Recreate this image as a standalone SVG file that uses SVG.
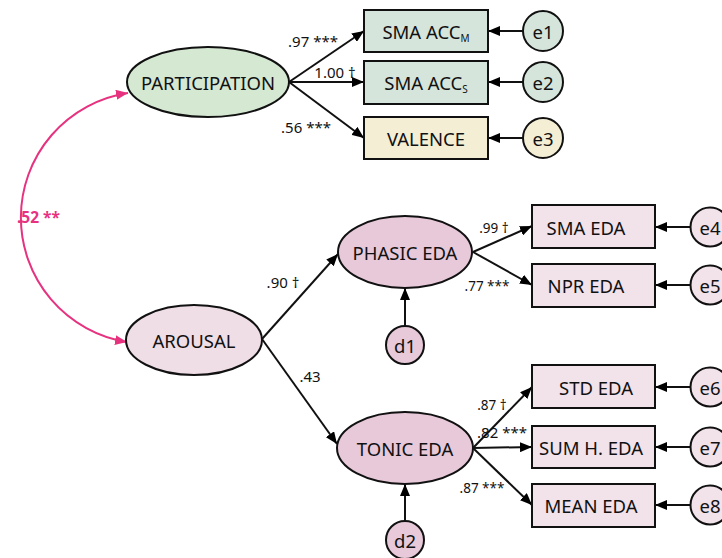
<svg xmlns="http://www.w3.org/2000/svg" width="722" height="558" viewBox="0 0 722 558">
<defs>
<marker id="ah" viewBox="0 0 12 10" refX="12" refY="5" markerWidth="12" markerHeight="10" markerUnits="userSpaceOnUse" orient="auto"><path d="M0,0 L12,5 L0,10 z" fill="#000"/></marker>
<marker id="ahp" viewBox="0 0 12 10" refX="12" refY="5" markerWidth="12" markerHeight="10" markerUnits="userSpaceOnUse" orient="auto-start-reverse"><path d="M0,0 L12,5 L0,10 z" fill="#e6327f"/></marker>
</defs>
<style>
text{font-family:"Noto Sans","Open Sans",sans-serif;fill:#111;}
.n{stroke:#111;stroke-width:2;}
.lab{font-size:18.5px;text-anchor:middle;dominant-baseline:central;}
.el{font-size:15px;}
.sm{font-size:13.5px;}
.c{stroke:#111;stroke-width:2;fill:none;marker-end:url(#ah);}
.g1{fill:#d5e8d2;} .g2{fill:#d5e5db;} .y{fill:#f4eed5;}
.p1{fill:#f0dee7;} .p2{fill:#e7c9d9;} .p3{fill:#f2e2ea;}
</style>
<rect width="722" height="558" fill="#fff"/>
<g id="connectors">
<path d="M128,93 A126,126 0 0 0 127,342" fill="none" stroke="#e6327f" stroke-width="2" marker-start="url(#ahp)" marker-end="url(#ahp)"/>
<line class="c" x1="289" y1="82" x2="364" y2="31"/>
<line class="c" x1="289" y1="82" x2="364" y2="82"/>
<line class="c" x1="289" y1="82" x2="364" y2="138"/>
<line class="c" x1="523" y1="31" x2="488" y2="31"/>
<line class="c" x1="523" y1="82" x2="488" y2="82"/>
<line class="c" x1="523" y1="138" x2="488" y2="138"/>
<line class="c" x1="262" y1="339" x2="338" y2="254"/>
<line class="c" x1="262" y1="339" x2="337" y2="444"/>
<line class="c" x1="405" y1="326" x2="405" y2="288"/>
<line class="c" x1="405" y1="521" x2="405" y2="484"/>
<line class="c" x1="473" y1="252" x2="532" y2="226"/>
<line class="c" x1="473" y1="252" x2="532" y2="285"/>
<line class="c" x1="473" y1="448" x2="532" y2="387"/>
<line class="c" x1="473" y1="448" x2="532" y2="447"/>
<line class="c" x1="473" y1="448" x2="532" y2="505"/>
<line class="c" x1="690" y1="227" x2="655" y2="227"/>
<line class="c" x1="690" y1="285" x2="655" y2="285"/>
<line class="c" x1="690" y1="387" x2="655" y2="387"/>
<line class="c" x1="690" y1="447" x2="655" y2="447"/>
<line class="c" x1="690" y1="505" x2="655" y2="505"/>
<text x="17" y="217" style="fill:#e6327f;font-weight:bold;font-size:15.5px;dominant-baseline:central">.52 **</text>
<text x="313" y="41" class="lab el">.97 ***</text>
<text x="335" y="72" class="lab el">1.00 †</text>
<text x="306" y="127" class="lab el">.56 ***</text>
<text x="283" y="282" class="lab el">.90 †</text>
<text x="310" y="376" class="lab el">.43</text>
<text x="494" y="228" class="lab sm">.99 †</text>
<text x="487" y="286" class="lab sm">.77 ***</text>
<text x="492" y="405" class="lab sm">.87 †</text>
<text x="502" y="432" class="lab el">.82 ***</text>
<text x="482" y="488" class="lab sm">.87 ***</text>
</g>
<g id="participation"><ellipse class="n g1" cx="208" cy="82" rx="81" ry="35"/><text x="208" y="82" class="lab">PARTICIPATION</text></g>
<g id="arousal"><ellipse class="n p1" cx="194" cy="340" rx="68" ry="35"/><text x="194" y="340" class="lab">AROUSAL</text></g>
<g id="phasic"><ellipse class="n p2" cx="405" cy="252" rx="67" ry="36"/><text x="405" y="252" class="lab">PHASIC EDA</text></g>
<g id="tonic"><ellipse class="n p2" cx="405" cy="448" rx="68" ry="36"/><text x="405" y="448" class="lab">TONIC EDA</text></g>
<g id="d1"><circle class="n p2" cx="405" cy="345" r="19"/><text x="405" y="345" class="lab">d1</text></g>
<g id="d2"><circle class="n p2" cx="405" cy="540" r="19"/><text x="405" y="540" class="lab">d2</text></g>
<g id="smaaccm"><rect class="n g2" x="364" y="10" width="124" height="42"/><text x="426" y="31" class="lab">SMA ACC<tspan font-size="10" dy="7">M</tspan></text></g>
<g id="smaaccs"><rect class="n g2" x="364" y="61" width="124" height="43"/><text x="426" y="82" class="lab">SMA ACC<tspan font-size="10" dy="7">S</tspan></text></g>
<g id="valence"><rect class="n y" x="364" y="117" width="124" height="42"/><text x="426" y="138" class="lab">VALENCE</text></g>
<g id="e1"><circle class="n g2" cx="543" cy="31" r="20"/><text x="543" y="31" class="lab">e1</text></g>
<g id="e2"><circle class="n g2" cx="543" cy="82" r="20"/><text x="543" y="82" class="lab">e2</text></g>
<g id="e3"><circle class="n y" cx="543" cy="138" r="20"/><text x="543" y="138" class="lab">e3</text></g>
<g id="smaeda"><rect class="n p3" x="532" y="205" width="123" height="43"/><text x="586" y="227" class="lab">SMA EDA</text></g>
<g id="npreda"><rect class="n p3" x="532" y="264" width="123" height="43"/><text x="586" y="285" class="lab">NPR EDA</text></g>
<g id="stdeda"><rect class="n p3" x="532" y="365" width="123" height="43"/><text x="596" y="387" class="lab">STD EDA</text></g>
<g id="sumheda"><rect class="n p3" x="532" y="426" width="123" height="42"/><text x="591" y="447" class="lab">SUM H. EDA</text></g>
<g id="meaneda"><rect class="n p3" x="532" y="484" width="123" height="43"/><text x="591" y="505" class="lab">MEAN EDA</text></g>
<g id="e4"><circle class="n p3" cx="710" cy="227" r="19.5"/><text x="710" y="227" class="lab">e4</text></g>
<g id="e5"><circle class="n p3" cx="710" cy="285" r="19.5"/><text x="710" y="285" class="lab">e5</text></g>
<g id="e6"><circle class="n p3" cx="710" cy="387" r="19.5"/><text x="710" y="387" class="lab">e6</text></g>
<g id="e7"><circle class="n p3" cx="710" cy="447" r="19.5"/><text x="710" y="447" class="lab">e7</text></g>
<g id="e8"><circle class="n p3" cx="710" cy="505" r="19.5"/><text x="710" y="505" class="lab">e8</text></g>
</svg>
